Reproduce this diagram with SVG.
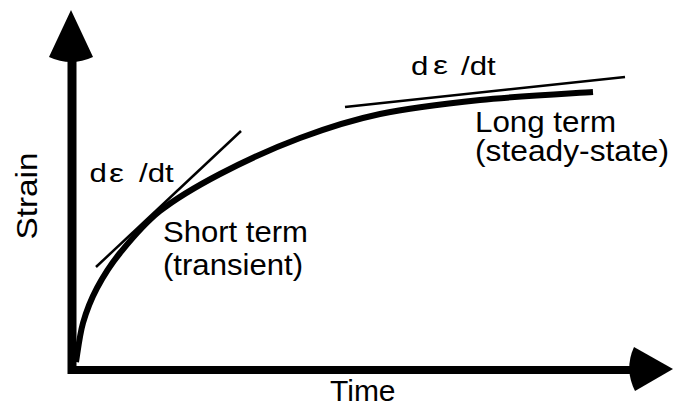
<svg xmlns="http://www.w3.org/2000/svg" width="673" height="406" viewBox="0 0 673 406">
<style>
  text { font-family: "Liberation Sans", Arial, sans-serif; fill: #000; }
  .lbl { font-size: 30px; }
  .rate { font-size: 26px; }
  .axis { stroke: #000; fill: none; }
  .tan { stroke: #000; stroke-width: 2.5; fill: none; }
  .curve { stroke: #000; stroke-width: 6; fill: none; }
</style>
<rect width="673" height="406" fill="#fff"/>
<g id="axes">
  <line class="axis" x1="72" y1="50" x2="72" y2="374" stroke-width="9"/>
  <line class="axis" x1="68" y1="370" x2="640" y2="370" stroke-width="8"/>
  <path d="M71,10 L49,57 Q71,67 93,57 Z" fill="#000"/>
  <path d="M673,369 L634,347 Q624,369 635,391 Z" fill="#000"/>
  <text class="lbl" x="330" y="401">Time</text>
  <text class="lbl" transform="translate(37,196) rotate(-90)" text-anchor="middle" textLength="87" lengthAdjust="spacingAndGlyphs">Strain</text>
</g>
<g id="curve">
  <path class="curve" d="M76,362 C77.2,355.5 79.5,335.3 83,323 C86.5,310.7 90.8,299.7 97,288 C103.2,276.3 109.5,265.8 120,253 C130.5,240.2 143.3,224.2 160,211 C176.7,197.8 196.7,186.2 220,174 C243.3,161.8 273.3,148 300,138 C326.7,128 350,120.3 380,114 C410,107.7 444.5,103.7 480,100 C515.5,96.3 574.2,93.3 593,92"/>
</g>
<g id="connectors">
  <line class="tan" x1="96" y1="267" x2="241" y2="131"/>
  <line class="tan" x1="345" y1="107" x2="625" y2="77"/>
</g>
<g id="short-term">
  <text class="rate" transform="translate(89.5,182) scale(1.2,1)">d</text>
  <text class="rate" transform="translate(109,182) scale(1.3,1)">ε</text>
  <text class="rate" transform="translate(139,182) scale(1.2,1)">/dt</text>
  <text class="lbl" x="163" y="242" textLength="145" lengthAdjust="spacingAndGlyphs">Short term</text>
  <text class="lbl" x="163" y="275" textLength="140" lengthAdjust="spacingAndGlyphs">(transient)</text>
</g>
<g id="long-term">
  <text class="rate" transform="translate(411,75) scale(1.2,1)">d</text>
  <text class="rate" transform="translate(433,74) scale(1.3,1)">ε</text>
  <text class="rate" transform="translate(461,75) scale(1.2,1)">/dt</text>
  <text class="lbl" x="475" y="132" textLength="141" lengthAdjust="spacingAndGlyphs">Long term</text>
  <text class="lbl" x="475" y="161" textLength="194" lengthAdjust="spacingAndGlyphs">(steady-state)</text>
</g>
</svg>
